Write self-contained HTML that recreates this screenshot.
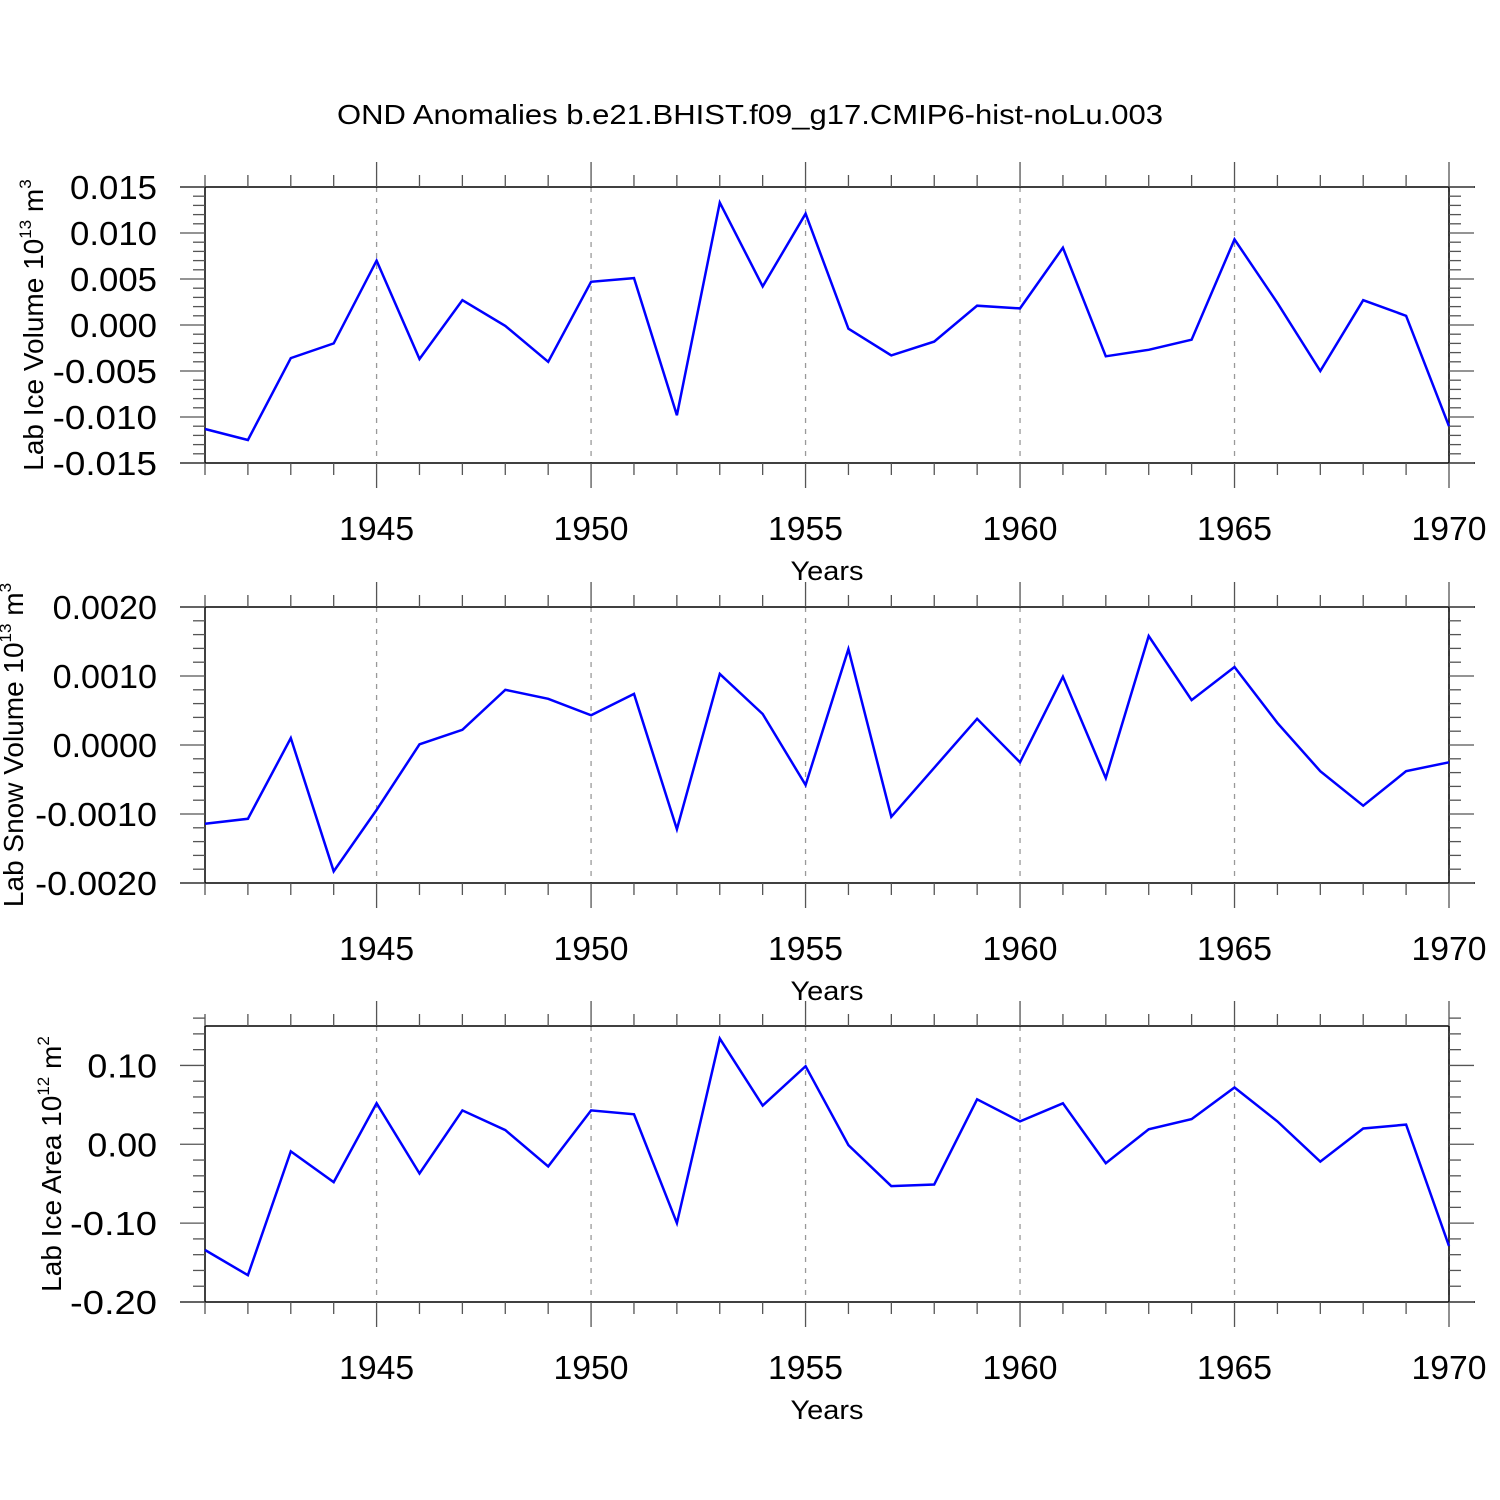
<!DOCTYPE html>
<html><head><meta charset="utf-8"><style>
html,body{margin:0;padding:0;background:#fff}
svg{display:block;font-family:"Liberation Sans",sans-serif}
</style></head><body>
<svg id="chart" width="1500" height="1500" viewBox="0 0 1500 1500">
<text x="750" y="124" text-anchor="middle" font-size="28" textLength="826" lengthAdjust="spacingAndGlyphs">OND Anomalies b.e21.BHIST.f09_g17.CMIP6-hist-noLu.003</text>
</svg>
<script>
const years = [1941,1942,1943,1944,1945,1946,1947,1948,1949,1950,1951,1952,1953,1954,1955,1956,1957,1958,1959,1960,1961,1962,1963,1964,1965,1966,1967,1968,1969,1970];
const iceVolume = [-0.0113,-0.0125,-0.0036,-0.0020,0.0070,-0.0037,0.0027,-0.0001,-0.0040,0.0047,0.0051,-0.0098,0.0133,0.0042,0.0121,-0.0004,-0.0033,-0.0018,0.0021,0.0018,0.0084,-0.0034,-0.0027,-0.0016,0.0093,0.0024,-0.0050,0.0027,0.0010,-0.0110];
const snowVolume = [-0.00114,-0.00107,0.00010,-0.00183,-0.00094,0.00001,0.00022,0.00080,0.00067,0.00043,0.00074,-0.00122,0.00103,0.00045,-0.00058,0.00139,-0.00104,-0.00033,0.00038,-0.00025,0.00099,-0.00048,0.00158,0.00065,0.00113,0.00032,-0.00038,-0.00088,-0.00038,-0.00025];
const iceArea = [-0.134,-0.166,-0.009,-0.048,0.052,-0.037,0.043,0.018,-0.028,0.043,0.038,-0.100,0.134,0.049,0.099,-0.001,-0.053,-0.051,0.057,0.029,0.052,-0.024,0.019,0.032,0.072,0.029,-0.022,0.020,0.025,-0.129];
const xTickLabels = [1945,1950,1955,1960,1965,1970];
const iceVolTicks = ["0.015","0.010","0.005","0.000","-0.005","-0.010","-0.015"];
const snowTicks = ["0.0020","0.0010","0.0000","-0.0010","-0.0020"];
const areaTicks = ["0.10","0.00","-0.10","-0.20"];

const NS="http://www.w3.org/2000/svg";
const svg=document.getElementById('chart');
function mk(tag,attrs,parent){const e=document.createElementNS(NS,tag);for(const k in attrs)e.setAttribute(k,attrs[k]);(parent||svg).appendChild(e);return e;}
const X0=205,X1=1449;
function xs(y){return X0+(y-1941)*(X1-X0)/29;}

const panels=[
 {name:'ice-volume',top:187,bot:463,ymin:-0.015,ymax:0.015,data:iceVolume,ticks:iceVolTicks,major:0.005,minor:0.001,tx:33,title:'Lab Ice Volume 10',sup1:'13',unit:' m',sup2:'3',fullTop:true},
 {name:'snow-volume',top:607,bot:883,ymin:-0.002,ymax:0.002,data:snowVolume,ticks:snowTicks,major:0.001,minor:0.0002,tx:13,title:'Lab Snow Volume 10',sup1:'13',unit:' m',sup2:'3',fullTop:true},
 {name:'ice-area',top:1026,bot:1302,ymin:-0.2,ymax:0.15,data:iceArea,ticks:areaTicks,major:0.1,minor:0.02,tx:51,title:'Lab Ice Area 10',sup1:'12',unit:' m',sup2:'2',fullTop:false}
];
panels.forEach(p=>{
 const g=mk('g',{});
 
 
 const ys=v=>p.bot-(v-p.ymin)/(p.ymax-p.ymin)*(p.bot-p.top);
 xTickLabels.forEach(yr=>{
  const l=mk('line',{x1:xs(yr),x2:xs(yr),y1:p.top,y2:p.bot,stroke:'#999','stroke-width':1.3,'stroke-dasharray':'5,6'},g);
  
  
 });
 const ax=mk('g',{stroke:'#000','stroke-width':1.5},g);
 
 
 mk('line',{x1:p.fullTop?180:X0,x2:p.fullTop?1475:X1,y1:p.top,y2:p.top},ax);
 mk('line',{x1:180,x2:1475,y1:p.bot,y2:p.bot},ax);
 mk('line',{x1:X0,x2:X0,y1:p.top,y2:p.bot},ax);
 mk('line',{x1:X1,x2:X1,y1:p.top,y2:p.bot},ax);
 years.forEach(yr=>{
  const maj=yr%5===0, len=maj?25:12;
  mk('line',{x1:xs(yr),x2:xs(yr),y1:p.top,y2:p.top-len,stroke:'#555','stroke-width':1.3},g);
  mk('line',{x1:xs(yr),x2:xs(yr),y1:p.bot,y2:p.bot+len,stroke:'#555','stroke-width':1.3},g);
 });
 xTickLabels.forEach(yr=>{
  const t=mk('text',{x:xs(yr),y:p.bot+77,'text-anchor':'middle','font-size':33,textLength:75,lengthAdjust:'spacingAndGlyphs'},g);
  t.textContent=yr;
  
  
 });
 const xt=mk('text',{x:827,y:p.bot+117,'text-anchor':'middle','font-size':27,textLength:73,lengthAdjust:'spacingAndGlyphs'},g);
 xt.textContent='Years';
 
 
 const n=Math.round((p.ymax-p.ymin)/p.minor);
 for(let i=0;i<=n;i++){
  const v=p.ymin+i*p.minor, r=v/p.major, maj=Math.abs(r-Math.round(r))<1e-6, len=maj?25:12;
  const y=ys(v);
  mk('line',{x1:X0,x2:X0-len,y1:y,y2:y,stroke:'#555','stroke-width':1.3},g);
  mk('line',{x1:X1,x2:X1+len,y1:y,y2:y,stroke:'#555','stroke-width':1.3},g);
 }
 p.ticks.forEach(s=>{
  const t=mk('text',{x:157,y:ys(parseFloat(s))+12,'text-anchor':'end','font-size':33,textLength:(s.length*17.4).toFixed(1),lengthAdjust:'spacingAndGlyphs'},g);
  t.textContent=s;
  
  
 });
 const cy=(p.top+p.bot)/2;
 const yt=mk('text',{x:0,y:0,'text-anchor':'middle','font-size':28,transform:`translate(${p.tx+10},${cy}) rotate(-90)`},g);
 
 
 const a=mk('tspan',{},yt);a.textContent=p.title;
 const b=mk('tspan',{dy:-12,'font-size':17},yt);b.textContent=p.sup1;
 const c=mk('tspan',{dy:12},yt);c.textContent=p.unit;
 const d=mk('tspan',{dy:-12,'font-size':17},yt);d.textContent=p.sup2;
 const pts=years.map((yr,i)=>xs(yr).toFixed(1)+','+ys(p.data[i]).toFixed(1)).join(' ');
 const pl=mk('polyline',{points:pts,fill:'none',stroke:'#0000ff','stroke-width':2.5,'stroke-linejoin':'miter'},g);
 
 
});
</script>
</body></html>
